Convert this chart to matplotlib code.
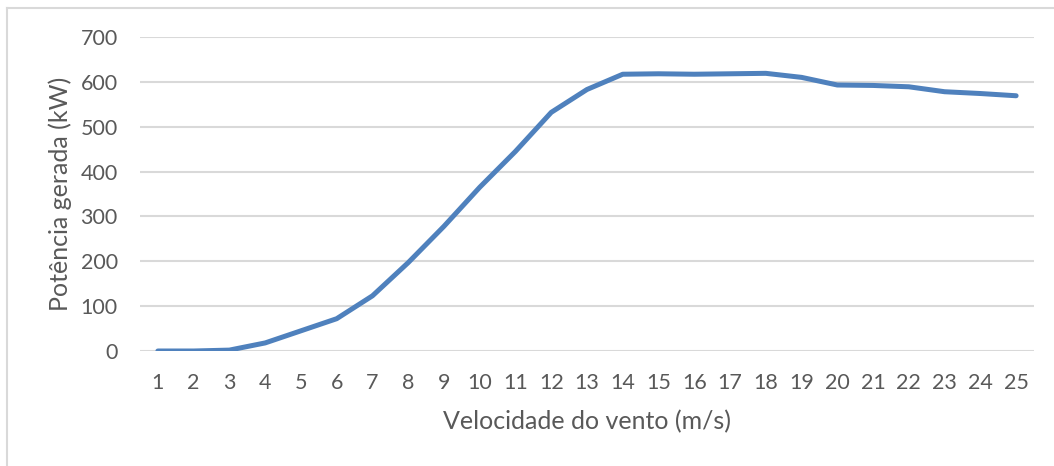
import matplotlib
matplotlib.use("Agg")
import matplotlib.pyplot as plt
from matplotlib.lines import Line2D

# wind speed (m/s) and generated power (kW)
wind_speed = list(range(1, 26))
power_kw = [0, 0, 2, 18, 45, 72, 123, 197, 278, 365, 445, 532, 583, 617,
            618, 617, 618, 619, 610, 593, 592, 589, 578, 574, 569]

y_ticks = [0, 100, 200, 300, 400, 500, 600, 700]

plt.rcParams['font.family'] = ['Lato', 'DejaVu Sans']
text_color = '#595959'

fig = plt.figure(figsize=(10.54, 4.66), dpi=100)
ax = fig.add_axes([140 / 1054, 1 - 351 / 466, 894 / 1054, 314 / 466])

ax.plot(wind_speed, power_kw, color='#4f81bd', linewidth=3.6,
        solid_capstyle='round', solid_joinstyle='round', zorder=3)

ax.set_xlim(0.5, 25.5)
ax.set_ylim(0, 700)
ax.set_xticks(wind_speed)
ax.set_yticks(y_ticks)
ax.grid(axis='y', color='#d9d9d9', linewidth=1.5)
ax.set_axisbelow(True)
for s in ax.spines.values():
    s.set_visible(False)
ax.tick_params(axis='both', length=0, labelsize=15.5, labelcolor=text_color)
ax.tick_params(axis='y', pad=16)
ax.tick_params(axis='x', pad=16)

ax.set_xlabel('Velocidade do vento (m/s)', fontsize=18, color=text_color, labelpad=12)
ax.set_ylabel('Potência gerada (kW)', fontsize=18, color=text_color, labelpad=6)

# chart frame (only top and left edges visible)
fig.add_artist(Line2D([7 / 1054, 7 / 1054], [0, 1 - 8 / 466], color='#d9d9d9', linewidth=1.5))
fig.add_artist(Line2D([7 / 1054, 1], [1 - 8 / 466, 1 - 8 / 466], color='#d9d9d9', linewidth=1.5))

fig.savefig('out.png', dpi=100)
